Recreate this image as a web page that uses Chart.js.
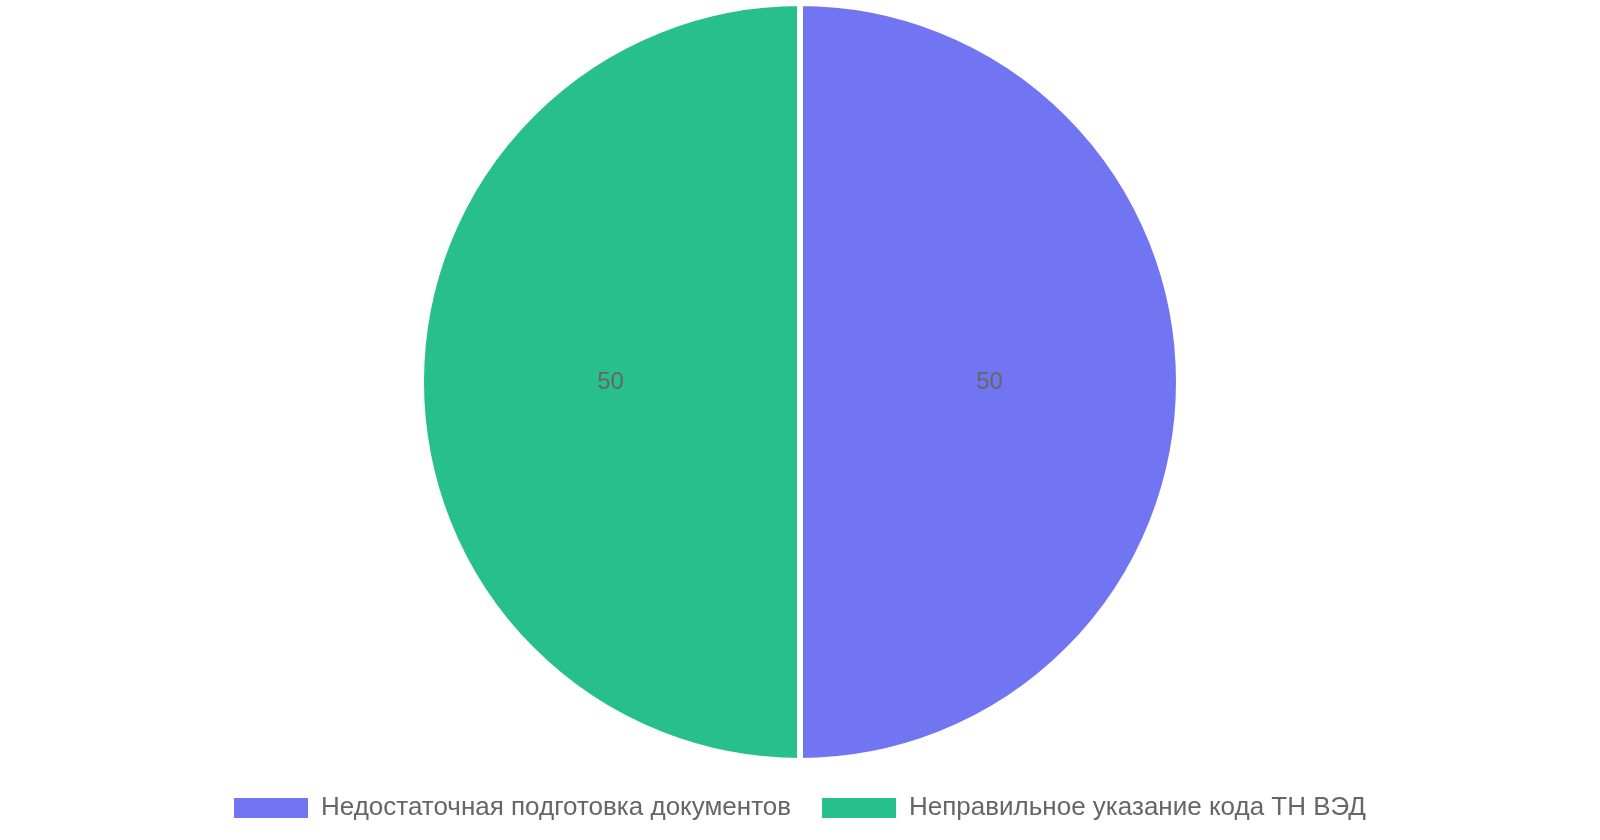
<!DOCTYPE html>
<html>
<head>
<meta charset="utf-8">
<script src="https://cdn.jsdelivr.net/npm/chart.js@4"></script>
<style>
  html, body { margin: 0; padding: 0; background: #fff; }
  #wrap { width: 1600px; height: 840px; position: relative; }
</style>
</head>
<body>
<div id="wrap"><canvas id="pieChart"></canvas></div>
<script>
// chart data
const labels = ['Недостаточная подготовка документов', 'Неправильное указание кода ТН ВЭД'];
const values = [50, 50];
const colors = ['rgba(99, 102, 241, 0.9)', 'rgba(16, 185, 129, 0.9)'];

// draws the value in the middle of each slice
const valueLabels = {
    id: 'valueLabels',
    afterDatasetsDraw(chart) {
        const ctx = chart.ctx;
        const meta = chart.getDatasetMeta(0);
        ctx.save();
        ctx.font = '24px "Liberation Sans", Arial, sans-serif';
        ctx.fillStyle = '#666';
        ctx.textAlign = 'center';
        ctx.textBaseline = 'middle';
        meta.data.forEach((arc, i) => {
            const p = arc.getCenterPoint();
            ctx.fillText(String(values[i]), p.x, p.y);
        });
        ctx.restore();
    }
};

Chart.defaults.font.family = '"Liberation Sans", Arial, sans-serif';
Chart.defaults.color = '#666';

new Chart(document.getElementById('pieChart'), {
    type: 'pie',
    data: {
        labels: labels,
        datasets: [{
            data: values,
            backgroundColor: colors,
            borderColor: '#fff',
            borderWidth: 6
        }]
    },
    options: {
        responsive: true,
        maintainAspectRatio: false,
        animation: false,
        layout: { padding: { bottom: 9 } },
        plugins: {
            legend: {
                position: 'bottom',
                labels: {
                    boxWidth: 74,
                    boxHeight: 20,
                    padding: 31,
                    font: { size: 26 },
                    color: '#666',
                    // no white outline around the legend boxes
                    generateLabels(chart) {
                        const items = Chart.overrides.pie.plugins.legend.labels.generateLabels(chart);
                        items.forEach(item => { item.lineWidth = 0; });
                        return items;
                    }
                }
            },
            tooltip: { enabled: false }
        }
    },
    plugins: [valueLabels]
});
</script>
</body>
</html>
